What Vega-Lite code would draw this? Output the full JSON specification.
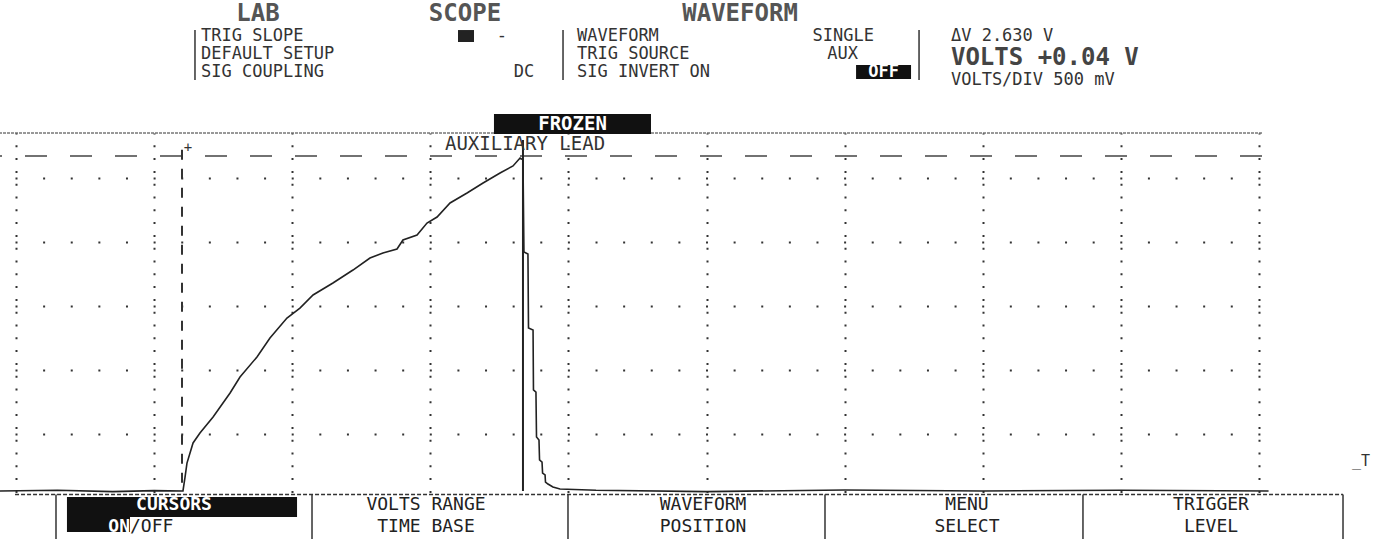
{
  "$schema": "https://vega.github.io/schema/vega-lite/v6.json",
  "width": 1262,
  "height": 365,
  "autosize": {"type": "none"},
  "padding": {"left": 0, "top": 133, "right": 115, "bottom": 41},
  "background": "white",
  "config": {
    "view": {"stroke": null},
    "axis": {"labels": false, "ticks": false, "domain": false, "grid": true, "gridColor": "#333", "gridWidth": 2, "gridOpacity": 1},
    "axisX": {"gridDash": [2, 10.8], "gridDashOffset": 1},
    "axisY": {"gridDash": [2, 25.62], "gridDashOffset": 12.62}
  },
  "data": {"values": [{}]},
  "datasets": {
    "trace": [
      {"i": 0, "t": -0.116, "v": 0.055},
      {"i": 1, "t": 0.3, "v": 0.06},
      {"i": 2, "t": 0.7, "v": 0.05},
      {"i": 3, "t": 1.0, "v": 0.058},
      {"i": 4, "t": 1.209, "v": 0.055},
      {"i": 5, "t": 1.224, "v": 0.164},
      {"i": 6, "t": 1.238, "v": 0.273},
      {"i": 7, "t": 1.282, "v": 0.43},
      {"i": 8, "t": 1.332, "v": 0.508},
      {"i": 9, "t": 1.427, "v": 0.633},
      {"i": 10, "t": 1.55, "v": 0.82},
      {"i": 11, "t": 1.622, "v": 0.945},
      {"i": 12, "t": 1.745, "v": 1.102},
      {"i": 13, "t": 1.839, "v": 1.25},
      {"i": 14, "t": 1.962, "v": 1.406},
      {"i": 15, "t": 2.056, "v": 1.484},
      {"i": 16, "t": 2.151, "v": 1.586},
      {"i": 17, "t": 2.295, "v": 1.68},
      {"i": 18, "t": 2.44, "v": 1.781},
      {"i": 19, "t": 2.563, "v": 1.875},
      {"i": 20, "t": 2.657, "v": 1.914},
      {"i": 21, "t": 2.759, "v": 1.945},
      {"i": 22, "t": 2.802, "v": 2.016},
      {"i": 23, "t": 2.904, "v": 2.055},
      {"i": 24, "t": 2.976, "v": 2.148},
      {"i": 25, "t": 3.049, "v": 2.195},
      {"i": 26, "t": 3.143, "v": 2.305},
      {"i": 27, "t": 3.266, "v": 2.383},
      {"i": 28, "t": 3.382, "v": 2.461},
      {"i": 29, "t": 3.505, "v": 2.539},
      {"i": 30, "t": 3.599, "v": 2.594},
      {"i": 31, "t": 3.65, "v": 2.656},
      {"i": 32, "t": 3.671, "v": 2.641},
      {"i": 33, "t": 3.678, "v": 1.922},
      {"i": 34, "t": 3.707, "v": 1.906},
      {"i": 35, "t": 3.711, "v": 1.328},
      {"i": 36, "t": 3.744, "v": 1.313},
      {"i": 37, "t": 3.747, "v": 0.844},
      {"i": 38, "t": 3.765, "v": 0.828},
      {"i": 39, "t": 3.769, "v": 0.477},
      {"i": 40, "t": 3.787, "v": 0.453},
      {"i": 41, "t": 3.791, "v": 0.297},
      {"i": 42, "t": 3.809, "v": 0.281},
      {"i": 43, "t": 3.813, "v": 0.195},
      {"i": 44, "t": 3.831, "v": 0.18},
      {"i": 45, "t": 3.834, "v": 0.125},
      {"i": 46, "t": 3.852, "v": 0.109},
      {"i": 47, "t": 3.888, "v": 0.086},
      {"i": 48, "t": 3.939, "v": 0.07},
      {"i": 49, "t": 4.2, "v": 0.06},
      {"i": 50, "t": 5.0, "v": 0.05},
      {"i": 51, "t": 6.0, "v": 0.063},
      {"i": 52, "t": 7.0, "v": 0.055},
      {"i": 53, "t": 8.0, "v": 0.06},
      {"i": 54, "t": 9.07, "v": 0.055}
    ]
  },
  "layer": [
    {
      "data": {"name": "trace"},
      "mark": {"type": "line", "stroke": "#222", "strokeWidth": 1.6},
      "encoding": {
        "x": {"field": "t", "type": "quantitative",
              "scale": {"domain": [-0.1159, 9.0224], "nice": false, "zero": false},
              "axis": {"values": [0,1,2,3,4,5,6,7,8,9], "title": null}},
        "y": {"field": "v", "type": "quantitative",
              "scale": {"domain": [0, 2.8516], "nice": false, "zero": false},
              "axis": {"values": [0.5,1,1.5,2,2.5], "title": null}},
        "order": {"field": "i", "type": "quantitative"}
      }
    },
    {"mark": {"type": "rule", "stroke": "#333", "strokeWidth": 1, "strokeDash": [3, 1]},
     "encoding": {"y": {"datum": 2.8516, "type": "quantitative"}}},
    {"mark": {"type": "rule", "stroke": "#444", "strokeWidth": 1.5, "strokeDash": [22, 23]},
     "encoding": {"y": {"datum": 2.672, "type": "quantitative"}}},
    {"mark": {"type": "rule", "stroke": "#333", "strokeWidth": 2, "strokeDash": [10, 9]},
     "encoding": {"x": {"datum": 1.202, "type": "quantitative"},
                  "y": {"datum": 2.72, "type": "quantitative"},
                  "y2": {"datum": 0.055}}},
    {"mark": {"type": "rule", "stroke": "#222", "strokeWidth": 2},
     "encoding": {"x": {"datum": 3.671, "type": "quantitative"},
                  "y": {"datum": 2.797, "type": "quantitative"},
                  "y2": {"datum": 0.055}}},
    {"mark": {"type": "text", "text": "+", "font": "DejaVu Sans Mono", "fontSize": 14, "color": "#333", "align": "center", "baseline": "middle"},
     "encoding": {"x": {"datum": 1.245, "type": "quantitative"}, "y": {"datum": 2.734, "type": "quantitative"}}},
    {"mark": {"type": "text", "text": "AUXILIARY LEAD", "font": "DejaVu Sans Mono", "fontSize": 19, "color": "#333", "align": "center", "baseline": "middle"},
     "encoding": {"x": {"datum": 3.686, "type": "quantitative"}, "y": {"datum": 2.766, "type": "quantitative"}}},
    {"mark": {"type": "rect", "fill": "#111"},
     "encoding": {"x": {"datum": 3.461, "type": "quantitative"}, "x2": {"datum": 4.598},
                  "y": {"datum": 3.0, "type": "quantitative"}, "y2": {"datum": 2.844}}},
    {"mark": {"type": "text", "text": "FROZEN", "font": "DejaVu Sans Mono", "fontSize": 19, "fontWeight": "bold", "color": "white", "align": "center", "baseline": "middle"},
     "encoding": {"x": {"datum": 4.03, "type": "quantitative"}, "y": {"datum": 2.922, "type": "quantitative"}}},
    {"mark": {"type": "text", "text": "LAB", "font": "DejaVu Sans Mono", "fontSize": 24, "fontWeight": "bold", "color": "#555", "align": "center", "baseline": "middle"},
     "encoding": {"x": {"datum": 1.752, "type": "quantitative"}, "y": {"datum": 3.781, "type": "quantitative"}}},
    {"mark": {"type": "text", "text": "SCOPE", "font": "DejaVu Sans Mono", "fontSize": 24, "fontWeight": "bold", "color": "#555", "align": "center", "baseline": "middle"},
     "encoding": {"x": {"datum": 3.251, "type": "quantitative"}, "y": {"datum": 3.781, "type": "quantitative"}}},
    {"mark": {"type": "text", "text": "WAVEFORM", "font": "DejaVu Sans Mono", "fontSize": 24, "fontWeight": "bold", "color": "#555", "align": "center", "baseline": "middle"},
     "encoding": {"x": {"datum": 5.243, "type": "quantitative"}, "y": {"datum": 3.781, "type": "quantitative"}}},
    {"mark": {"type": "rule", "stroke": "#333", "strokeWidth": 1.5},
     "encoding": {"x": {"datum": 1.296, "type": "quantitative"}, "y": {"datum": 3.656, "type": "quantitative"}, "y2": {"datum": 3.266}}},
    {"mark": {"type": "rule", "stroke": "#333", "strokeWidth": 1.5},
     "encoding": {"x": {"datum": 3.961, "type": "quantitative"}, "y": {"datum": 3.656, "type": "quantitative"}, "y2": {"datum": 3.266}}},
    {"mark": {"type": "rule", "stroke": "#333", "strokeWidth": 1.5},
     "encoding": {"x": {"datum": 6.539, "type": "quantitative"}, "y": {"datum": 3.656, "type": "quantitative"}, "y2": {"datum": 3.266}}},
    {"mark": {"type": "text", "text": "TRIG SLOPE", "font": "DejaVu Sans Mono", "fontSize": 17, "color": "#333", "align": "left", "baseline": "middle"},
     "encoding": {"x": {"datum": 1.34, "type": "quantitative"}, "y": {"datum": 3.609, "type": "quantitative"}}},
    {"mark": {"type": "text", "text": "DEFAULT SETUP", "font": "DejaVu Sans Mono", "fontSize": 17, "color": "#333", "align": "left", "baseline": "middle"},
     "encoding": {"x": {"datum": 1.34, "type": "quantitative"}, "y": {"datum": 3.469, "type": "quantitative"}}},
    {"mark": {"type": "text", "text": "SIG COUPLING", "font": "DejaVu Sans Mono", "fontSize": 17, "color": "#333", "align": "left", "baseline": "middle"},
     "encoding": {"x": {"datum": 1.34, "type": "quantitative"}, "y": {"datum": 3.328, "type": "quantitative"}}},
    {"mark": {"type": "rect", "fill": "#222"},
     "encoding": {"x": {"datum": 3.2006, "type": "quantitative"}, "x2": {"datum": 3.3164},
                  "y": {"datum": 3.656, "type": "quantitative"}, "y2": {"datum": 3.5625}}},
    {"mark": {"type": "text", "text": "-", "font": "DejaVu Sans Mono", "fontSize": 17, "color": "#333", "align": "center", "baseline": "middle"},
     "encoding": {"x": {"datum": 3.519, "type": "quantitative"}, "y": {"datum": 3.609, "type": "quantitative"}}},
    {"mark": {"type": "text", "text": "DC", "font": "DejaVu Sans Mono", "fontSize": 17, "color": "#333", "align": "center", "baseline": "middle"},
     "encoding": {"x": {"datum": 3.678, "type": "quantitative"}, "y": {"datum": 3.328, "type": "quantitative"}}},
    {"mark": {"type": "text", "text": "WAVEFORM", "font": "DejaVu Sans Mono", "fontSize": 17, "color": "#333", "align": "left", "baseline": "middle"},
     "encoding": {"x": {"datum": 4.062, "type": "quantitative"}, "y": {"datum": 3.609, "type": "quantitative"}}},
    {"mark": {"type": "text", "text": "SINGLE", "font": "DejaVu Sans Mono", "fontSize": 17, "color": "#333", "align": "right", "baseline": "middle"},
     "encoding": {"x": {"datum": 6.213, "type": "quantitative"}, "y": {"datum": 3.609, "type": "quantitative"}}},
    {"mark": {"type": "text", "text": "TRIG SOURCE", "font": "DejaVu Sans Mono", "fontSize": 17, "color": "#333", "align": "left", "baseline": "middle"},
     "encoding": {"x": {"datum": 4.062, "type": "quantitative"}, "y": {"datum": 3.469, "type": "quantitative"}}},
    {"mark": {"type": "text", "text": "AUX", "font": "DejaVu Sans Mono", "fontSize": 17, "color": "#333", "align": "right", "baseline": "middle"},
     "encoding": {"x": {"datum": 6.097, "type": "quantitative"}, "y": {"datum": 3.469, "type": "quantitative"}}},
    {"mark": {"type": "text", "text": "SIG INVERT ON", "font": "DejaVu Sans Mono", "fontSize": 17, "color": "#333", "align": "left", "baseline": "middle"},
     "encoding": {"x": {"datum": 4.062, "type": "quantitative"}, "y": {"datum": 3.328, "type": "quantitative"}}},
    {"mark": {"type": "rect", "fill": "#111"},
     "encoding": {"x": {"datum": 6.083, "type": "quantitative"}, "x2": {"datum": 6.481},
                  "y": {"datum": 3.383, "type": "quantitative"}, "y2": {"datum": 3.273}}},
    {"mark": {"type": "text", "text": "OFF", "font": "DejaVu Sans Mono", "fontSize": 17, "fontWeight": "bold", "color": "white", "align": "center", "baseline": "middle"},
     "encoding": {"x": {"datum": 6.282, "type": "quantitative"}, "y": {"datum": 3.328, "type": "quantitative"}}},
    {"mark": {"type": "text", "text": "ΔV 2.630 V", "font": "DejaVu Sans Mono", "fontSize": 17, "color": "#333", "align": "left", "baseline": "middle"},
     "encoding": {"x": {"datum": 6.77, "type": "quantitative"}, "y": {"datum": 3.609, "type": "quantitative"}}},
    {"mark": {"type": "text", "text": "VOLTS +0.04 V", "font": "DejaVu Sans Mono", "fontSize": 24, "fontWeight": "bold", "color": "#444", "align": "left", "baseline": "middle"},
     "encoding": {"x": {"datum": 6.77, "type": "quantitative"}, "y": {"datum": 3.4375, "type": "quantitative"}}},
    {"mark": {"type": "text", "text": "VOLTS/DIV 500 mV", "font": "DejaVu Sans Mono", "fontSize": 17, "color": "#333", "align": "left", "baseline": "middle"},
     "encoding": {"x": {"datum": 6.77, "type": "quantitative"}, "y": {"datum": 3.2656, "type": "quantitative"}}},
    {"mark": {"type": "rule", "stroke": "#333", "strokeWidth": 1.5, "strokeDash": [4, 2]},
     "encoding": {"x": {"datum": -0.007, "type": "quantitative"}, "x2": {"datum": 9.609},
                  "y": {"datum": 0.027, "type": "quantitative"}}},
    {"mark": {"type": "rule", "stroke": "#333", "strokeWidth": 1.5},
     "encoding": {"x": {"datum": 0.2896, "type": "quantitative"}, "y": {"datum": 0.027, "type": "quantitative"}, "y2": {"datum": -0.33}}},
    {"mark": {"type": "rule", "stroke": "#333", "strokeWidth": 1.5},
     "encoding": {"x": {"datum": 2.1434, "type": "quantitative"}, "y": {"datum": 0.027, "type": "quantitative"}, "y2": {"datum": -0.33}}},
    {"mark": {"type": "rule", "stroke": "#333", "strokeWidth": 1.5},
     "encoding": {"x": {"datum": 3.997, "type": "quantitative"}, "y": {"datum": 0.027, "type": "quantitative"}, "y2": {"datum": -0.33}}},
    {"mark": {"type": "rule", "stroke": "#333", "strokeWidth": 1.5},
     "encoding": {"x": {"datum": 5.858, "type": "quantitative"}, "y": {"datum": 0.027, "type": "quantitative"}, "y2": {"datum": -0.33}}},
    {"mark": {"type": "rule", "stroke": "#333", "strokeWidth": 1.5},
     "encoding": {"x": {"datum": 7.726, "type": "quantitative"}, "y": {"datum": 0.027, "type": "quantitative"}, "y2": {"datum": -0.33}}},
    {"mark": {"type": "rule", "stroke": "#333", "strokeWidth": 1.5},
     "encoding": {"x": {"datum": 9.609, "type": "quantitative"}, "y": {"datum": 0.027, "type": "quantitative"}, "y2": {"datum": -0.33}}},
    {"mark": {"type": "rect", "fill": "#111"},
     "encoding": {"x": {"datum": 0.369, "type": "quantitative"}, "x2": {"datum": 2.035},
                  "y": {"datum": 0.008, "type": "quantitative"}, "y2": {"datum": -0.148}}},
    {"mark": {"type": "rect", "fill": "#111"},
     "encoding": {"x": {"datum": 0.369, "type": "quantitative"}, "x2": {"datum": 0.8255},
                  "y": {"datum": -0.148, "type": "quantitative"}, "y2": {"datum": -0.266}}},
    {"mark": {"type": "text", "text": "CURSORS", "font": "DejaVu Sans Mono", "fontSize": 18, "fontWeight": "bold", "color": "white", "align": "center", "baseline": "middle"},
     "encoding": {"x": {"datum": 1.144, "type": "quantitative"}, "y": {"datum": -0.0547, "type": "quantitative"}}},
    {"mark": {"type": "text", "text": "ON", "font": "DejaVu Sans Mono", "fontSize": 18, "fontWeight": "bold", "color": "white", "align": "right", "baseline": "middle"},
     "encoding": {"x": {"datum": 0.8255, "type": "quantitative"}, "y": {"datum": -0.227, "type": "quantitative"}}},
    {"mark": {"type": "text", "text": "/OFF", "font": "DejaVu Sans Mono", "fontSize": 18, "color": "#222", "align": "left", "baseline": "middle"},
     "encoding": {"x": {"datum": 0.8255, "type": "quantitative"}, "y": {"datum": -0.227, "type": "quantitative"}}},
    {"mark": {"type": "text", "text": "VOLTS RANGE", "font": "DejaVu Sans Mono", "fontSize": 18, "color": "#222", "align": "center", "baseline": "middle"},
     "encoding": {"x": {"datum": 2.969, "type": "quantitative"}, "y": {"datum": -0.0547, "type": "quantitative"}}},
    {"mark": {"type": "text", "text": "TIME BASE", "font": "DejaVu Sans Mono", "fontSize": 18, "color": "#222", "align": "center", "baseline": "middle"},
     "encoding": {"x": {"datum": 2.969, "type": "quantitative"}, "y": {"datum": -0.227, "type": "quantitative"}}},
    {"mark": {"type": "text", "text": "WAVEFORM", "font": "DejaVu Sans Mono", "fontSize": 18, "color": "#222", "align": "center", "baseline": "middle"},
     "encoding": {"x": {"datum": 4.975, "type": "quantitative"}, "y": {"datum": -0.0547, "type": "quantitative"}}},
    {"mark": {"type": "text", "text": "POSITION", "font": "DejaVu Sans Mono", "fontSize": 18, "color": "#222", "align": "center", "baseline": "middle"},
     "encoding": {"x": {"datum": 4.975, "type": "quantitative"}, "y": {"datum": -0.227, "type": "quantitative"}}},
    {"mark": {"type": "text", "text": "MENU", "font": "DejaVu Sans Mono", "fontSize": 18, "color": "#222", "align": "center", "baseline": "middle"},
     "encoding": {"x": {"datum": 6.886, "type": "quantitative"}, "y": {"datum": -0.0547, "type": "quantitative"}}},
    {"mark": {"type": "text", "text": "SELECT", "font": "DejaVu Sans Mono", "fontSize": 18, "color": "#222", "align": "center", "baseline": "middle"},
     "encoding": {"x": {"datum": 6.886, "type": "quantitative"}, "y": {"datum": -0.227, "type": "quantitative"}}},
    {"mark": {"type": "text", "text": "TRIGGER", "font": "DejaVu Sans Mono", "fontSize": 18, "color": "#222", "align": "center", "baseline": "middle"},
     "encoding": {"x": {"datum": 8.653, "type": "quantitative"}, "y": {"datum": -0.0547, "type": "quantitative"}}},
    {"mark": {"type": "text", "text": "LEVEL", "font": "DejaVu Sans Mono", "fontSize": 18, "color": "#222", "align": "center", "baseline": "middle"},
     "encoding": {"x": {"datum": 8.653, "type": "quantitative"}, "y": {"datum": -0.227, "type": "quantitative"}}},
    {"mark": {"type": "text", "text": "_T", "font": "DejaVu Sans Mono", "fontSize": 15, "color": "#333", "align": "right", "baseline": "middle"},
     "encoding": {"x": {"datum": 9.805, "type": "quantitative"}, "y": {"datum": 0.289, "type": "quantitative"}}}
  ]
}
